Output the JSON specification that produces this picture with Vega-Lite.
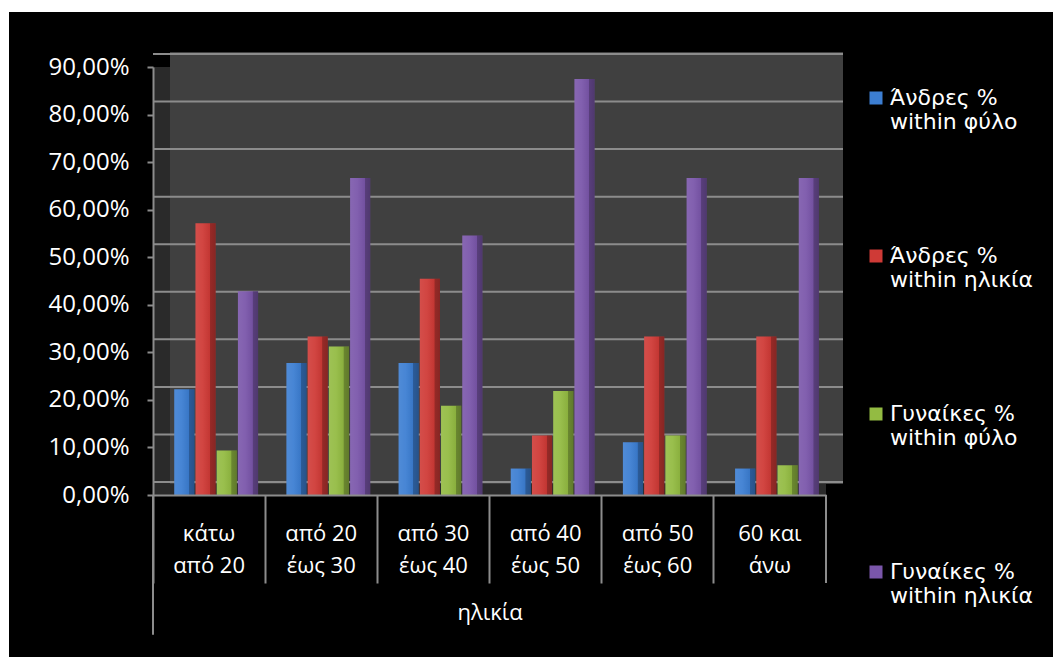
{
  "$schema": "https://vega.github.io/schema/vega-lite/v6.json",
  "width": 673,
  "height": 428,
  "autosize": {"type": "none"},
  "padding": {"left": 153, "top": 67, "right": 227, "bottom": 162},
  "background": "white",
  "config": {"view": {"stroke": null}, "font": "Open Sans"},
  "datasets": {
    "bars": [
      {"age": "κάτω από 20", "series": "Άνδρες % within φύλο", "pct": 22.22},
      {"age": "από 20 έως 30", "series": "Άνδρες % within φύλο", "pct": 27.78},
      {"age": "από 30 έως 40", "series": "Άνδρες % within φύλο", "pct": 27.78},
      {"age": "από 40 έως 50", "series": "Άνδρες % within φύλο", "pct": 5.56},
      {"age": "από 50 έως 60", "series": "Άνδρες % within φύλο", "pct": 11.11},
      {"age": "60 και άνω", "series": "Άνδρες % within φύλο", "pct": 5.56},
      {"age": "κάτω από 20", "series": "Άνδρες % within ηλικία", "pct": 57.14},
      {"age": "από 20 έως 30", "series": "Άνδρες % within ηλικία", "pct": 33.33},
      {"age": "από 30 έως 40", "series": "Άνδρες % within ηλικία", "pct": 45.45},
      {"age": "από 40 έως 50", "series": "Άνδρες % within ηλικία", "pct": 12.5},
      {"age": "από 50 έως 60", "series": "Άνδρες % within ηλικία", "pct": 33.33},
      {"age": "60 και άνω", "series": "Άνδρες % within ηλικία", "pct": 33.33},
      {"age": "κάτω από 20", "series": "Γυναίκες % within φύλο", "pct": 9.38},
      {"age": "από 20 έως 30", "series": "Γυναίκες % within φύλο", "pct": 31.25},
      {"age": "από 30 έως 40", "series": "Γυναίκες % within φύλο", "pct": 18.75},
      {"age": "από 40 έως 50", "series": "Γυναίκες % within φύλο", "pct": 21.88},
      {"age": "από 50 έως 60", "series": "Γυναίκες % within φύλο", "pct": 12.5},
      {"age": "60 και άνω", "series": "Γυναίκες % within φύλο", "pct": 6.25},
      {"age": "κάτω από 20", "series": "Γυναίκες % within ηλικία", "pct": 42.86},
      {"age": "από 20 έως 30", "series": "Γυναίκες % within ηλικία", "pct": 66.67},
      {"age": "από 30 έως 40", "series": "Γυναίκες % within ηλικία", "pct": 54.55},
      {"age": "από 40 έως 50", "series": "Γυναίκες % within ηλικία", "pct": 87.5},
      {"age": "από 50 έως 60", "series": "Γυναίκες % within ηλικία", "pct": 66.67},
      {"age": "60 και άνω", "series": "Γυναίκες % within ηλικία", "pct": 66.67}
    ],
    "grid": [
      {"v": 0}, {"v": 10}, {"v": 20}, {"v": 30}, {"v": 40},
      {"v": 50}, {"v": 60}, {"v": 70}, {"v": 80}, {"v": 90}
    ]
  },
  "layer": [
    {
      "description": "black panel behind the whole chart",
      "data": {"values": [{}]},
      "mark": {"type": "rect", "fill": "black", "xOffset": -144, "x2Offset": 227, "yOffset": -55, "y2Offset": 162},
      "encoding": {
        "x": {"datum": "κάτω από 20", "bandPosition": 0},
        "x2": {"datum": "60 και άνω", "bandPosition": 1},
        "y": {"datum": 90},
        "y2": {"datum": 0}
      }
    },
    {
      "description": "side wall and floor",
      "data": {"values": [{}]},
      "mark": {"type": "rect", "fill": "#2a2a2a", "y2Offset": 1},
      "encoding": {
        "x": {"datum": "κάτω από 20", "bandPosition": 0},
        "x2": {"datum": "60 και άνω", "bandPosition": 1},
        "y": {"datum": 90},
        "y2": {"datum": 0}
      }
    },
    {
      "description": "back wall",
      "data": {"values": [{}]},
      "mark": {"type": "rect", "fill": "#404040", "xOffset": 17, "x2Offset": 17, "yOffset": -15, "y2Offset": -11},
      "encoding": {
        "x": {"datum": "κάτω από 20", "bandPosition": 0},
        "x2": {"datum": "60 και άνω", "bandPosition": 1},
        "y": {"datum": 90},
        "y2": {"datum": 0}
      }
    },
    {
      "description": "gridlines on the back wall",
      "data": {"name": "grid"},
      "mark": {"type": "rule", "color": "#8c8c8c", "strokeWidth": 2, "xOffset": 17, "x2Offset": 17, "yOffset": -13},
      "encoding": {"y": {"field": "v", "type": "quantitative"}}
    },
    {
      "data": {"name": "bars"},
      "mark": {"type": "bar"},
      "encoding": {
        "x": {
          "field": "age", "type": "nominal",
          "sort": ["κάτω από 20", "από 20 έως 30", "από 30 έως 40", "από 40 έως 50", "από 50 έως 60", "60 και άνω"],
          "scale": {"paddingInner": 0, "paddingOuter": 0},
          "axis": {
            "bandPosition": 0,
            "zindex": 1,
            "labelAngle": 0,
            "labelAlign": "center",
            "labelOffset": 0,
            "labelExpr": "datum.label == 'κάτω από 20' ? ['κάτω', 'από 20'] : datum.label == '60 και άνω' ? ['60 και', 'άνω'] : [slice(datum.label, 0, 6), slice(datum.label, 7)]",
            "labelFont": "Open Sans",
            "labelFontSize": 22,
            "labelLineHeight": 32,
            "labelBaseline": "top",
            "labelColor": "white",
            "labelPadding": -60,
            "tickSize": 88,
            "tickWidth": 2,
            "tickColor": "#8c8c8c",
            "domainColor": "#8c8c8c",
            "domainWidth": 2,
            "title": "ηλικία",
            "titleFont": "Open Sans",
            "titleFontSize": 22,
            "titleFontWeight": "normal",
            "titleColor": "white",
            "titlePadding": 18
          }
        },
        "xOffset": {
          "field": "series", "type": "nominal",
          "sort": ["Άνδρες % within φύλο", "Άνδρες % within ηλικία", "Γυναίκες % within φύλο", "Γυναίκες % within ηλικία"],
          "scale": {"paddingOuter": 0.667, "paddingInner": 0.05, "align": 0.75}
        },
        "y": {
          "field": "pct", "type": "quantitative",
          "scale": {"domain": [0, 90], "nice": false},
          "axis": {
            "values": [0, 10, 20, 30, 40, 50, 60, 70, 80, 90],
            "labelExpr": "replace(format(datum.value / 100, '.2%'), '.', ',')",
            "labelFont": "Open Sans",
            "labelFontSize": 24,
            "labelColor": "white",
            "labelPadding": 18,
            "tickSize": 6,
            "tickWidth": 2,
            "tickColor": "#8c8c8c",
            "domainColor": "#8c8c8c",
            "domainWidth": 2,
            "grid": false,
            "title": null,
            "zindex": 1
          }
        },
        "color": {
          "field": "series", "type": "nominal",
          "scale": {
            "domain": ["Άνδρες % within φύλο", "Άνδρες % within ηλικία", "Γυναίκες % within φύλο", "Γυναίκες % within ηλικία"],
            "range": ["#3c7ed2", "#cf3a36", "#93bb42", "#7a56aa"]
          },
          "legend": {
            "orient": "none",
            "legendX": 712,
            "legendY": 20,
            "title": null,
            "padding": 0,
            "symbolType": "square",
            "symbolSize": 169,
            "symbolStrokeWidth": 0,
            "symbolOpacity": 1,
            "labelFont": "DejaVu Sans",
            "labelFontSize": 22,
            "labelColor": "white",
            "labelLineHeight": 31,
            "labelOffset": 3,
            "labelLimit": 300,
            "rowPadding": 112,
            "labelExpr": "[split(datum.label, ' within ')[0], 'within ' + split(datum.label, ' within ')[1]]"
          }
        }
      }
    },
    {
      "description": "shading across each bar for a rounded look",
      "data": {"name": "bars"},
      "mark": {
        "type": "bar",
        "color": {
          "gradient": "linear", "x1": 0, "x2": 1, "y1": 0, "y2": 0,
          "stops": [
            {"offset": 0, "color": "rgba(255,255,255,0.10)"},
            {"offset": 0.35, "color": "rgba(255,255,255,0.06)"},
            {"offset": 0.72, "color": "rgba(0,0,0,0.06)"},
            {"offset": 0.74, "color": "rgba(0,0,0,0.28)"},
            {"offset": 1, "color": "rgba(0,0,0,0.35)"}
          ]
        }
      },
      "encoding": {
        "x": {"field": "age", "type": "nominal", "sort": ["κάτω από 20", "από 20 έως 30", "από 30 έως 40", "από 40 έως 50", "από 50 έως 60", "60 και άνω"]},
        "xOffset": {"field": "series", "type": "nominal", "sort": ["Άνδρες % within φύλο", "Άνδρες % within ηλικία", "Γυναίκες % within φύλο", "Γυναίκες % within ηλικία"]},
        "y": {"field": "pct", "type": "quantitative"}
      }
    },
    {
      "description": "closing separator after the last age group",
      "data": {"values": [{}]},
      "mark": {"type": "rule", "color": "#8c8c8c", "strokeWidth": 2},
      "encoding": {
        "x": {"datum": "60 και άνω", "bandPosition": 1},
        "y": {"datum": 0},
        "y2": {"datum": -18.5}
      }
    },
    {
      "description": "left edge of the category axis, down past the title",
      "data": {"values": [{}]},
      "mark": {"type": "rule", "color": "#8c8c8c", "strokeWidth": 2},
      "encoding": {
        "x": {"datum": "κάτω από 20", "bandPosition": 0},
        "y": {"datum": 0},
        "y2": {"datum": -29.4}
      }
    }
  ]
}
